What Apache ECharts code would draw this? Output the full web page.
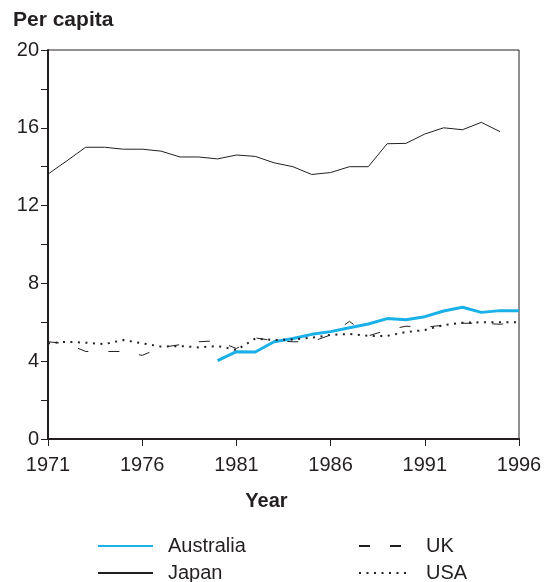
<!DOCTYPE html>
<html>
<head>
<meta charset="utf-8">
<script src="https://cdn.jsdelivr.net/npm/echarts@6/dist/echarts.min.js"></script>
<style>
  html, body { margin: 0; padding: 0; background: #fff; }
  #main { width: 547px; height: 582px; }
</style>
</head>
<body>
<div id="main"></div>
<script>
// years on the x axis
var years = [];
for (var y = 1971; y <= 1996; y++) years.push(String(y));

// per capita values
var australia = [null, null, null, null, null, null, null, null, null, 4.03,
  4.49, 4.47, 5.0, 5.17, 5.38, 5.52, 5.72, 5.91, 6.19, 6.13,
  6.29, 6.58, 6.77, 6.51, 6.6, 6.6];
var japan = [13.62, 14.3, 15.0, 15.0, 14.9, 14.9, 14.8, 14.5, 14.5, 14.4,
  14.6, 14.53, 14.2, 14.0, 13.6, 13.7, 14.0, 14.0, 15.18, 15.2,
  15.68, 16.0, 15.9, 16.28, 15.8, null];
var uk = [5.0, 4.9, 4.5, 4.5, 4.5, 4.3, 4.7, 4.85, 5.0, 5.05,
  4.65, 5.2, 5.05, 5.0, 5.0, 5.35, 6.05, 5.3, 5.6, 5.8,
  5.75, 5.85, 5.95, 5.95, 5.9, 6.0];
var usa = [4.92, 5.0, 4.95, 4.88, 5.09, 4.92, 4.75, 4.78, 4.71, 4.78,
  4.58, 5.16, 5.09, 5.12, 5.21, 5.35, 5.4, 5.3, 5.3, 5.5,
  5.6, 5.86, 5.98, 6.0, 6.0, 6.0];

var ink = '#231f20';
var font = 'Liberation Sans, Arial, sans-serif';

// one legend per entry, so each sits where the reference puts it
function legendAt(name, left, top, width, gap) {
  return {
    data: [name],
    left: left, top: top, padding: 0,
    itemWidth: width, itemHeight: 14,
    itemStyle: { opacity: 0 },
    textStyle: { fontFamily: font, fontSize: 20, color: ink, padding: [0, 0, 0, gap] }
  };
}

var myChart = echarts.init(document.getElementById('main'));

var option = {
  animation: false,
  title: {
    text: 'Per capita',
    left: 13, top: 10, padding: 0,
    textStyle: { fontFamily: font, fontSize: 21, fontWeight: 'bold', color: ink }
  },
  grid: {
    left: 48, right: 28, top: 50, bottom: 143,
    show: true, borderColor: ink, borderWidth: 1
  },
  legend: [
    legendAt('Australia', 97, 536, 55, 10),
    legendAt('Japan', 97, 563, 55, 10),
    legendAt('UK', 358, 536, 42, 20),
    legendAt('USA', 358, 563, 50, 12)
  ],
  xAxis: {
    type: 'category',
    data: years,
    boundaryGap: false,
    name: 'Year',
    nameLocation: 'middle',
    nameGap: 52,
    nameTextStyle: {
      fontFamily: font, fontSize: 20, fontWeight: 'bold', color: ink,
      padding: [0, 34, 0, 0]
    },
    axisLine: { lineStyle: { color: ink, width: 2 } },
    axisTick: { interval: 4, length: 7, lineStyle: { color: ink, width: 1 } },
    axisLabel: { interval: 4, fontFamily: font, fontSize: 20, color: ink, margin: 16 },
    splitLine: { show: false }
  },
  yAxis: {
    type: 'value',
    min: 0, max: 20, interval: 4,
    axisLine: { show: true, lineStyle: { color: ink, width: 2 } },
    axisTick: { show: true, length: 7, lineStyle: { color: ink, width: 1 } },
    minorTick: { show: true, splitNumber: 2, length: 7, lineStyle: { color: ink, width: 1 } },
    axisLabel: { fontFamily: font, fontSize: 20, color: ink, margin: 9 },
    splitLine: { show: false }
  },
  series: [
    {
      name: 'Australia', type: 'line', data: australia,
      symbol: 'none', connectNulls: false,
      lineStyle: { color: '#1ab0e8', width: 3 },
      itemStyle: { color: '#1ab0e8' }
    },
    {
      name: 'Japan', type: 'line', data: japan,
      symbol: 'none',
      lineStyle: { color: ink, width: 1 },
      itemStyle: { color: ink }
    },
    {
      name: 'UK', type: 'line', data: uk,
      symbol: 'none',
      lineStyle: { color: ink, width: 1, type: [11, 20] },
      itemStyle: { color: ink }
    },
    {
      name: 'USA', type: 'line', data: usa,
      symbol: 'none',
      lineStyle: { color: ink, width: 2, type: [2, 5.5] },
      itemStyle: { color: ink }
    }
  ]
};

myChart.setOption(option);
</script>
</body>
</html>
